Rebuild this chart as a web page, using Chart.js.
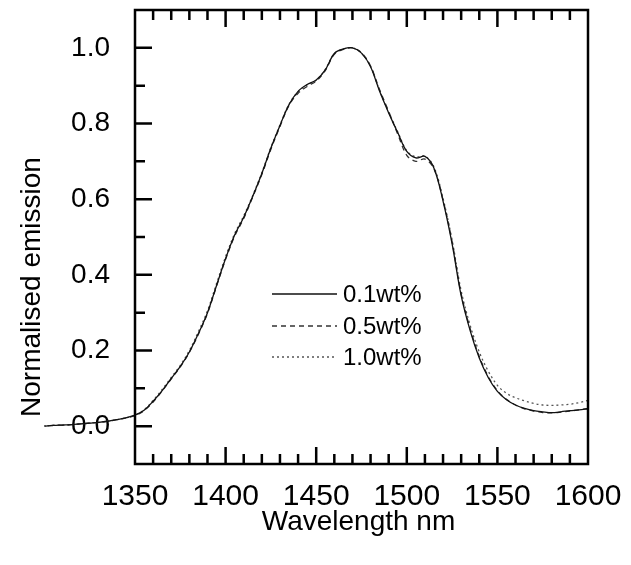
<!DOCTYPE html>
<html>
<head>
<meta charset="utf-8">
<script src="https://cdn.jsdelivr.net/npm/chart.js"></script>
<style>
  html, body { margin: 0; padding: 0; background: #fff; }
  #wrap { width: 631px; height: 565px; }
</style>
</head>
<body>
<div id="wrap"><canvas id="chart"></canvas></div>
<script>
// wavelength (nm) and normalised emission for each concentration
const wavelengths = [1300,1305,1310,1315,1320,1325,1330,1335,1340,1345,
  1350,1355,1360,1365,1370,1375,1380,1385,1390,1395,
  1400,1405,1410,1415,1420,1425,1430,1435,1440,1445,
  1450,1455,1460,1465,1470,1475,1480,1485,1490,1495,
  1500,1505,1510,1515,1520,1525,1530,1535,1540,1545,
  1550,1555,1560,1565,1570,1575,1580,1585,1590,1595,1600];
const em01 = [0.000,0.002,0.003,0.004,0.006,0.008,0.010,0.013,0.017,0.022,
  0.029,0.042,0.066,0.094,0.126,0.158,0.196,0.245,0.300,0.372,
  0.443,0.505,0.552,0.608,0.668,0.735,0.795,0.850,0.885,0.903,
  0.915,0.942,0.985,0.997,1.000,0.986,0.950,0.885,0.828,0.776,
  0.726,0.709,0.713,0.682,0.595,0.482,0.345,0.252,0.180,0.128,
  0.092,0.070,0.056,0.047,0.041,0.038,0.036,0.038,0.041,0.043,0.046];
const em05 = [0.001,0.002,0.003,0.004,0.006,0.008,0.010,0.013,0.017,0.022,
  0.028,0.041,0.064,0.093,0.125,0.157,0.195,0.243,0.298,0.370,
  0.441,0.502,0.549,0.606,0.665,0.732,0.792,0.848,0.880,0.898,
  0.912,0.940,0.983,0.996,1.000,0.987,0.952,0.889,0.832,0.772,
  0.716,0.700,0.706,0.680,0.598,0.487,0.350,0.257,0.184,0.131,
  0.094,0.071,0.056,0.046,0.040,0.036,0.035,0.037,0.040,0.043,0.047];
const em10 = [0.000,0.002,0.003,0.004,0.006,0.008,0.010,0.013,0.017,0.022,
  0.029,0.043,0.068,0.097,0.129,0.161,0.200,0.250,0.305,0.377,
  0.448,0.509,0.556,0.610,0.670,0.737,0.796,0.851,0.884,0.902,
  0.914,0.943,0.985,0.997,1.000,0.986,0.951,0.887,0.830,0.778,
  0.728,0.712,0.714,0.685,0.602,0.492,0.358,0.266,0.196,0.145,
  0.108,0.087,0.075,0.067,0.060,0.056,0.055,0.056,0.058,0.062,0.068];
const seriesNames = ['0.1wt%', '0.5wt%', '1.0wt%'];
const xTicks = [1350, 1400, 1450, 1500, 1550, 1600];
const yTicks = [0.0, 0.2, 0.4, 0.6, 0.8, 1.0];
const xTitle = 'Wavelength nm';
const yTitle = 'Normalised emission';

const FONT = '"Liberation Sans", Arial, Helvetica, sans-serif';

// points given high-to-low so the part left of 1350 nm is not trimmed
function pts(vals) {
  return wavelengths.map((w, i) => ({ x: w, y: vals[i] })).reverse();
}

// frame, inward ticks, axis titles and legend
const decor = {
  id: 'decor',
  afterDatasetsDraw(chart) {
    const ctx = chart.ctx;
    const a = chart.chartArea;
    const xs = chart.scales.x, ys = chart.scales.y;
    ctx.save();
    ctx.strokeStyle = '#000';
    ctx.lineWidth = 2.5;
    ctx.lineCap = 'butt';
    ctx.strokeRect(a.left, a.top, a.right - a.left, a.bottom - a.top);

    ctx.beginPath();
    for (let v = 1360; v < 1600; v += 10) {
      const px = xs.getPixelForValue(v);
      const len = v % 50 === 0 ? 17 : 10;
      ctx.moveTo(px, a.bottom); ctx.lineTo(px, a.bottom - len);
      ctx.moveTo(px, a.top); ctx.lineTo(px, a.top + len);
    }
    for (let k = 0; k <= 10; k++) {
      const py = ys.getPixelForValue(k / 10);
      const len = k % 2 === 0 ? 17 : 10;
      ctx.moveTo(a.left, py); ctx.lineTo(a.left + len, py);
    }
    ctx.stroke();

    // axis titles
    ctx.fillStyle = '#000';
    ctx.font = '28px ' + FONT;
    ctx.textAlign = 'center';
    ctx.textBaseline = 'alphabetic';
    ctx.fillText(xTitle, (a.left + a.right) / 2 - 3, 530);
    ctx.save();
    ctx.translate(40, 287);
    ctx.rotate(-Math.PI / 2);
    ctx.fillText(yTitle, 0, 0);
    ctx.restore();

    // legend
    ctx.font = '24px ' + FONT;
    ctx.textAlign = 'left';
    ctx.textBaseline = 'middle';
    const rows = [294, 326, 357];
    chart.data.datasets.forEach((ds, i) => {
      ctx.save();
      ctx.strokeStyle = ds.borderColor;
      ctx.lineWidth = ds.borderWidth;
      ctx.setLineDash(ds.borderDash || []);
      ctx.beginPath();
      ctx.moveTo(272, rows[i]);
      ctx.lineTo(337, rows[i]);
      ctx.stroke();
      ctx.restore();
      ctx.fillText(ds.label, 343, rows[i] + 1);
    });
    ctx.restore();
  }
};

new Chart(document.getElementById('chart'), {
  type: 'line',
  data: {
    datasets: [
      { label: seriesNames[0], data: pts(em01), borderColor: '#111', borderWidth: 1.3, borderDash: [] },
      { label: seriesNames[1], data: pts(em05), borderColor: '#333', borderWidth: 1.3, borderDash: [5, 4] },
      { label: seriesNames[2], data: pts(em10), borderColor: '#555', borderWidth: 1.3, borderDash: [2, 3] }
    ]
  },
  options: {
    responsive: true,
    maintainAspectRatio: false,
    animation: false,
    events: [],
    datasets: { line: { pointRadius: 0, tension: 0.35, fill: false, clip: false } },
    layout: { padding: { top: 10, right: 43, bottom: 0, left: 0 } },
    plugins: { legend: { display: false }, tooltip: { enabled: false } },
    scales: {
      x: {
        type: 'linear',
        min: 1350, max: 1600,
        afterBuildTicks: s => { s.ticks = xTicks.map(v => ({ value: v })); },
        afterFit: s => { s.height = 101; s.paddingLeft = 0; s.paddingRight = 0; },
        grid: { display: false, drawTicks: false },
        border: { display: false },
        ticks: { color: '#000', padding: 15, maxRotation: 0, font: { size: 30, family: FONT },
          callback: v => String(v) }
      },
      y: {
        type: 'linear',
        min: -0.1, max: 1.1,
        afterBuildTicks: s => { s.ticks = yTicks.map(v => ({ value: v })); },
        afterFit: s => { s.width = 135; s.paddingTop = 0; s.paddingBottom = 0; },
        grid: { display: false, drawTicks: false },
        border: { display: false },
        ticks: { color: '#000', padding: 25, font: { size: 28, family: FONT },
          callback: v => v.toFixed(1) }
      }
    }
  },
  plugins: [decor]
});
</script>
</body>
</html>
